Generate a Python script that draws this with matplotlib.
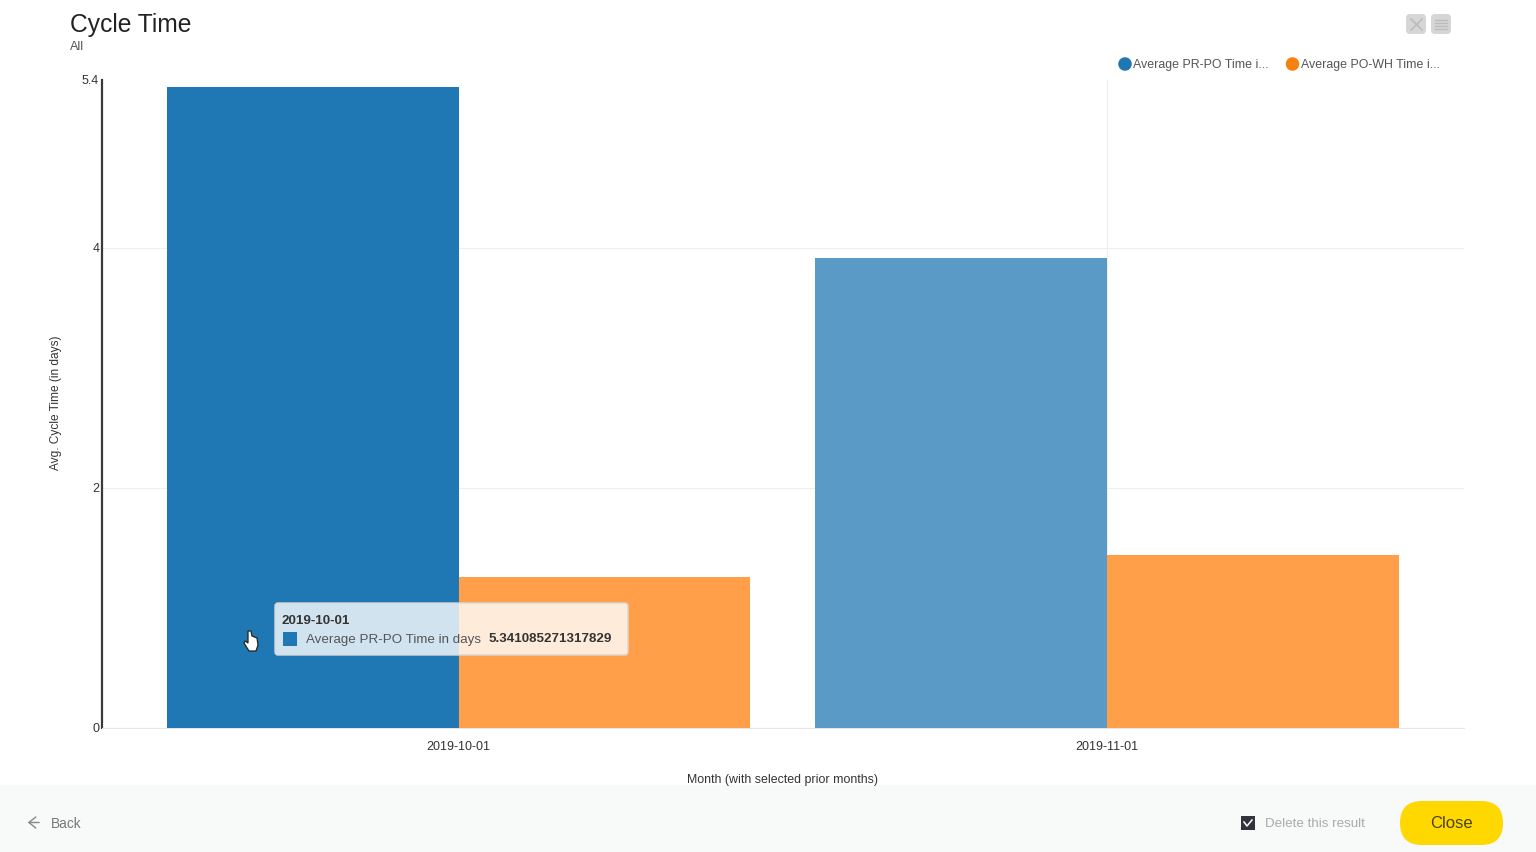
import numpy as np
import matplotlib
matplotlib.use("Agg")
import matplotlib.pyplot as plt
from matplotlib.patches import FancyBboxPatch, Rectangle, Polygon

plt.rcParams['font.family'] = ['Liberation Sans', 'DejaVu Sans']

months = ["2019-10-01", "2019-11-01"]
pr_po = [5.341085271317829, 3.91]
po_wh = [1.254, 1.4375]
y_ticks = [0, 2, 4, 5.4]
y_tick_labels = ["0", "2", "4", "5.4"]

W, H = 1536, 852
fig = plt.figure(figsize=(W/100, H/100), dpi=100, facecolor='white')

# plot area in pixels: x 102-1464, y 79.5-727.5
ax = fig.add_axes([102/W, 1-727.5/H, (1464-102)/W, (727.5-79.5)/H])
x = np.arange(len(months))
bar_w = 0.45
ax.bar(x-bar_w/2, pr_po, bar_w, color=['#1f77b4', '#5a9ac6'], zorder=3)
ax.bar(x+bar_w/2, po_wh, bar_w, color='#ff9f4a', zorder=3)
ax.set_xlim(-0.5497, 1.5503)
ax.set_ylim(0, 5.4)
ax.set_xticks(x)
ax.set_xticklabels(months, fontsize=9, color='#333333')
ax.set_yticks(y_ticks)
ax.set_yticklabels(y_tick_labels, fontsize=9, color='#333333')
ax.tick_params(axis='x', length=0, pad=10)
ax.tick_params(axis='y', length=0, pad=2)
ax.grid(True, color='#eeeeee', lw=0.8, zorder=0)
# no line at the top of the scale or at the first month
ax.get_ygridlines()[-1].set_visible(False)
ax.get_xgridlines()[0].set_visible(False)
for s in ['top', 'right']:
    ax.spines[s].set_visible(False)
ax.spines['bottom'].set_color('#e6e6e6')
ax.spines['left'].set_color('#3a3a3a')
ax.spines['left'].set_linewidth(1.6)

# everything else is placed in pixel coordinates
ov = fig.add_axes([0, 0, 1, 1], zorder=5)
ov.set_xlim(0, W)
ov.set_ylim(H, 0)
ov.axis('off')
ov.patch.set_alpha(0)

ov.text(70, 25, "Cycle Time", fontsize=17.7, color='#222222', va='center')
ov.text(70, 46.5, "All", fontsize=9, color='#555555', va='center')
ov.text(56, 403, "Avg. Cycle Time (in days)", fontsize=8.6, color='#333333',
        rotation=90, ha='center', va='center')
ov.text(782.5, 779.5, "Month (with selected prior months)", fontsize=8.95,
        color='#333333', ha='center', va='center')

# legend
ov.scatter([1125, 1292.5], [64, 64], s=95, c=['#1f77b4', '#f5820f'], lw=0)
ov.text(1133, 65, "Average PR-PO Time i...", fontsize=8.9, color='#555555', va='center')
ov.text(1301, 65, "Average PO-WH Time i...", fontsize=8.9, color='#555555', va='center')

# toolbar icons
for xc in [1406, 1431]:
    ov.add_patch(FancyBboxPatch((xc+3, 17), 14, 14, boxstyle="round,pad=3,rounding_size=4",
                                fc='#d6d6d6', ec='none'))
ov.plot([1411, 1422], [19, 30], color='#bcbcbc', lw=1.2)
ov.plot([1411, 1422], [30, 19], color='#bcbcbc', lw=1.2)
for yy in [20, 23, 26, 29]:
    ov.plot([1435, 1447], [yy, yy], color='#bcbcbc', lw=1)

# tooltip
ov.add_patch(FancyBboxPatch((277, 605), 349, 48, boxstyle="round,pad=2,rounding_size=3",
                            fc=(1, 1, 1, 0.8), ec='#d8d8d8', lw=1))
ov.text(282, 620.5, "2019-10-01", fontsize=9.6, fontweight='bold', color='#333333', va='center')
ov.add_patch(Rectangle((283, 632), 14, 14, fc='#1f77b4', ec='none'))
ov.text(306, 639.5, "Average PR-PO Time in days", fontsize=9.6, color='#555555', va='center')
ov.text(489, 639.5, "5.341085271317829", fontsize=9.6, fontweight='bold', color='#333333', va='center')

# hand cursor
ov.add_patch(Polygon([(248, 631), (251, 631), (252, 636), (257, 638), (258, 645), (256, 651),
                      (249, 651), (244, 643), (245, 641), (248, 643)],
                     closed=True, fc='white', ec='#222222', lw=0.9))

# footer
ov.add_patch(Rectangle((0, 785), W, H-785, fc='#f8f9f9', ec='none', zorder=0.5))
ov.annotate("", xy=(25, 822.5), xytext=(42, 822.5),
            arrowprops=dict(arrowstyle='->,head_length=0.5,head_width=0.4', color='#888888', lw=1),
            zorder=2)
ov.text(51, 823.5, "Back", fontsize=9.8, color='#777777', va='center', zorder=2)
ov.add_patch(Rectangle((1241, 816), 13.5, 13.5, fc='#33333d', ec='none', zorder=2))
ov.plot([1244, 1247, 1252], [822, 826, 820], color='white', lw=1.1, zorder=3)
ov.text(1265, 824, "Delete this result", fontsize=9.6, color='#aaaaaa', va='center', zorder=2)
ov.add_patch(FancyBboxPatch((1400, 801), 103, 44, boxstyle="round,pad=0,rounding_size=22",
                            fc='#ffd800', ec='none', zorder=2))
ov.text(1451.5, 823, "Close", fontsize=12, color='#4a4215', ha='center', va='center', zorder=3)

fig.savefig("out.png", dpi=100, facecolor='white')
